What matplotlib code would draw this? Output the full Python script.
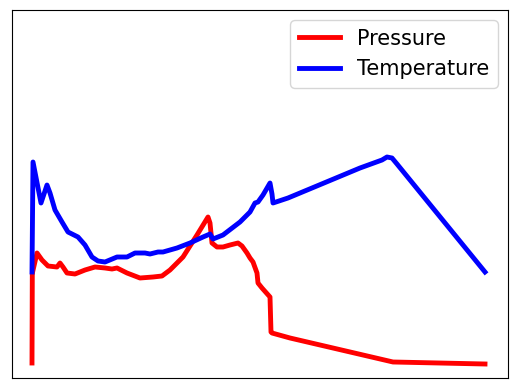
import matplotlib
matplotlib.use("Agg")
import matplotlib.pyplot as plt

# values (time index, level)
pressure_t = [0, 0.3, 0.6, 5, 10, 16, 25, 28, 31, 35, 43, 53, 63, 73, 80, 85, 95, 108,
              121, 130, 138, 151, 165, 176, 178, 180, 185, 191, 198, 206, 210,
              215, 218, 221, 225, 226, 230, 238, 239, 240, 258, 361, 453]
pressure_v = [15, 103, 106, 125, 118, 112, 111, 115, 111, 105, 104, 108, 111, 110, 109,
              110, 105, 100, 101, 102, 108, 121, 143, 161, 155, 135, 131, 131, 133,
              135, 132, 125, 120, 116, 105, 95, 90, 81, 46, 45, 40, 16, 14]
temperature_t = [0, 1, 9, 15, 18, 23, 30, 36, 46, 53, 60, 66, 73, 85, 95, 103, 113, 118,
                 126, 131, 145, 158, 171, 178, 181, 191, 208, 218, 223, 226, 231, 238,
                 240, 241, 256, 328, 350, 355, 360, 365, 453]
temperature_v = [106, 216, 175, 193, 185, 168, 156, 146, 141, 133, 121, 117, 116, 121,
                 121, 125, 125, 124, 126, 126, 130, 135, 141, 144, 139, 143, 156, 166,
                 175, 176, 183, 195, 184, 175, 180, 210, 218, 221, 220, 214, 106]

fig = plt.figure(figsize=(5.15, 3.89), dpi=100)
ax = fig.add_axes([12 / 515, 11 / 389, 496 / 515, 368 / 389])

ax.plot(pressure_t, pressure_v, color="red", lw=3.5, label="Pressure")
ax.plot(temperature_t, temperature_v, color="blue", lw=3.5, label="Temperature")

ax.set_xlim(-20, 476)
ax.set_ylim(0, 368)
ax.set_xticks([])
ax.set_yticks([])
ax.legend(loc="upper right", fontsize=15)

plt.savefig("out.png", dpi=100)
